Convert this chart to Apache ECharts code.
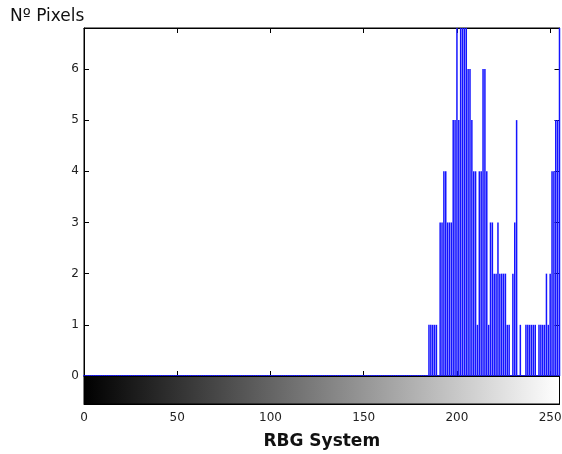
<!DOCTYPE html>
<html>
<head>
<meta charset="utf-8">
<script src="https://cdn.jsdelivr.net/npm/echarts@6/dist/echarts.min.js"></script>
<style>
html,body{margin:0;padding:0;background:#fff;}
#chart{width:562px;height:454px;}
</style>
</head>
<body>
<div id="chart"></div>
<script>
// Histogram: number of pixels per grey level (bins 0..255)
const counts = [
  0,0,0,0,0,0,0,0,0,0, 0,0,0,0,0,0,0,0,0,0,   // 0-19
  0,0,0,0,0,0,0,0,0,0, 0,0,0,0,0,0,0,0,0,0,   // 20-39
  0,0,0,0,0,0,0,0,0,0, 0,0,0,0,0,0,0,0,0,0,   // 40-59
  0,0,0,0,0,0,0,0,0,0, 0,0,0,0,0,0,0,0,0,0,   // 60-79
  0,0,0,0,0,0,0,0,0,0, 0,0,0,0,0,0,0,0,0,0,   // 80-99
  0,0,0,0,0,0,0,0,0,0, 0,0,0,0,0,0,0,0,0,0,   // 100-119
  0,0,0,0,0,0,0,0,0,0, 0,0,0,0,0,0,0,0,0,0,   // 120-139
  0,0,0,0,0,0,0,0,0,0, 0,0,0,0,0,0,0,0,0,0,   // 140-159
  0,0,0,0,0,0,0,0,0,0, 0,0,0,0,0,0,0,0,0,0,   // 160-179
  0,0,0,0,0,1,1,1,1,1, 0,3,3,4,4,3,3,3,5,5,   // 180-199
  7,5,7,7,7,7,6,6,5,4, 4,1,4,4,6,6,4,1,3,3,   // 200-219
  2,2,3,2,2,2,2,1,1,0, 2,3,5,0,1,0,0,1,1,1,   // 220-239
  1,1,1,0,1,1,1,1,2,1, 2,4,4,5,5,7            // 240-255
];
const xTicks = [0, 50, 100, 150, 200, 250];
const yTicks = [0, 1, 2, 3, 4, 5, 6];
const xLabel = 'RBG System';
const yLabel = 'Nº Pixels';

const barData = counts.map((v, i) => [i, v]);

const chart = echarts.init(document.getElementById('chart'), null, {renderer: 'canvas'});
const FONT = 'DejaVu Sans';
const black = '#000';
const tickStyle = {show: true, inside: true, length: 5, lineStyle: {color: black, width: 1}};

const xFmt = v => (xTicks.indexOf(v) >= 0 ? String(v) : '');
const yFmt = v => (yTicks.indexOf(v) >= 0 ? String(v) : '');

chart.setOption({
  animation: false,
  backgroundColor: '#fff',
  textStyle: {fontFamily: FONT},
  title: {
    text: yLabel,
    left: 5, top: 3,
    textStyle: {fontFamily: FONT, fontSize: 17, fontWeight: 'normal', color: '#111'}
  },
  grid: [
    {left: 84, right: 2.5, top: 28, height: 348, show: true, borderColor: black, borderWidth: 1,
     backgroundColor: '#fff', containLabel: false, outerBoundsMode: 'none'},
    {left: 84, right: 2.5, top: 376, height: 28, show: true, borderColor: black, borderWidth: 1,
     backgroundColor: new echarts.graphic.LinearGradient(0, 0, 1, 0, [
       {offset: 0, color: '#000000'}, {offset: 1, color: '#ffffff'}
     ]), containLabel: false, outerBoundsMode: 'none'}
  ],
  xAxis: [
    {gridIndex: 0, type: 'value', min: 0, max: 255, interval: 50, position: 'bottom',
     axisLine: {show: true, onZero: false, lineStyle: {color: black}},
     axisTick: tickStyle, axisLabel: {show: false}, splitLine: {show: false}},
    {gridIndex: 0, type: 'value', min: 0, max: 255, interval: 50, position: 'top',
     axisLine: {show: true, onZero: false, lineStyle: {color: black}},
     axisTick: tickStyle, axisLabel: {show: false}, splitLine: {show: false}},
    {gridIndex: 1, type: 'value', min: 0, max: 255, interval: 50, position: 'bottom',
     axisLine: {show: true, onZero: false, lineStyle: {color: black}},
     axisTick: {show: false}, splitLine: {show: false},
     axisLabel: {show: true, formatter: xFmt, fontSize: 12, color: '#222', margin: 8, fontFamily: FONT,
                 hideOverlap: false},
     name: xLabel, nameLocation: 'middle', nameGap: 29,
     nameTextStyle: {fontFamily: FONT, fontSize: 17, fontWeight: 'bold', color: '#111'}}
  ],
  yAxis: [
    {gridIndex: 0, type: 'value', min: 0, max: 6.8, interval: 1, position: 'left',
     axisLine: {show: true, onZero: false, lineStyle: {color: black}},
     axisTick: tickStyle, splitLine: {show: false},
     axisLabel: {show: true, formatter: yFmt, fontSize: 12, color: '#222', margin: 5, fontFamily: FONT}},
    {gridIndex: 0, type: 'value', min: 0, max: 6.8, interval: 1, position: 'right',
     axisLine: {show: true, onZero: false, lineStyle: {color: black}},
     axisTick: tickStyle, splitLine: {show: false}, axisLabel: {show: false}},
    {gridIndex: 1, type: 'value', min: 0, max: 1, position: 'left',
     axisLine: {show: true, onZero: false, lineStyle: {color: black}},
     axisTick: {show: false}, splitLine: {show: false}, axisLabel: {show: false}}
  ],
  series: [
    {type: 'bar', xAxisIndex: 0, yAxisIndex: 0, data: barData,
     barWidth: 1.5, barMinHeight: 1, clip: true,
     itemStyle: {color: '#1414ff'}, emphasis: {disabled: true}}
  ]
});
</script>
</body>
</html>
